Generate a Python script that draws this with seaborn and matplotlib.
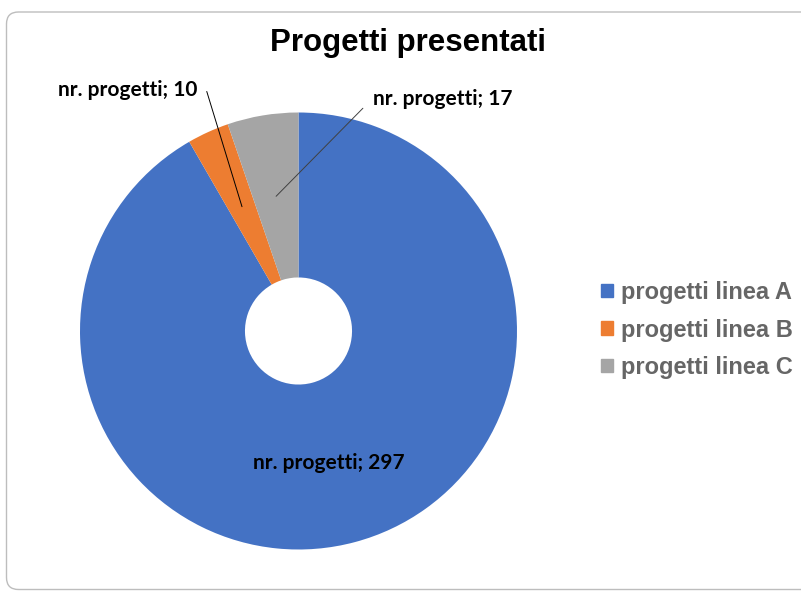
import numpy as np
import matplotlib
matplotlib.use("Agg")
import matplotlib.pyplot as plt
import matplotlib.patches as mpatches
from matplotlib.transforms import IdentityTransform
import seaborn as sns

categories = ["progetti linea A", "progetti linea B", "progetti linea C"]
values = [297, 10, 17]
label_prefix = "nr. progetti"
colors = ["#4472C4", "#ED7D31", "#A5A5A5"]

sns.set_theme(style="white")
plt.rcParams["font.family"] = ["Liberation Sans", "DejaVu Sans"]

W, H = 801, 591
fig = plt.figure(figsize=(W / 100, H / 100), dpi=100)

# rounded chart frame
frame = mpatches.FancyBboxPatch((6.5, 1.5), 830, 577.5,
                                boxstyle="round,pad=0,rounding_size=12",
                                transform=IdentityTransform(), zorder=-5,
                                facecolor="none", edgecolor="#bdbdbd", lw=1.0)
fig.patches.append(frame)

# pie area: centre (298.5, 331) px, radius 218.5 px
cx, cy, r = 298.5, 331, 218.5
ax = fig.add_axes([(cx - r) / W, (H - cy - r) / H, 2 * r / W, 2 * r / H])
wedges, _ = ax.pie(values, colors=colors, startangle=90, counterclock=False,
                   radius=1, wedgeprops=dict(width=0.755, edgecolor="none"))
ax.set_xlim(-1, 1)
ax.set_ylim(-1, 1)
ax.set_aspect("equal")
ax.axis("off")

lab_font = dict(family=["Lato", "DejaVu Sans"], fontweight="bold", fontsize=15, color="black")

# data labels
anchor_r = 0.625
for i, w in enumerate(wedges):
    mid = np.deg2rad((w.theta1 + w.theta2) / 2)
    ax_pt = (anchor_r * np.cos(mid), anchor_r * np.sin(mid))
    txt = f"{label_prefix}; {values[i]}"
    if i == 0:
        ax.text(ax_pt[0] - 5 / r, ax_pt[1], txt, ha="center", va="center", **lab_font)
    elif i == 1:
        ax.annotate(txt, xy=ax_pt, xytext=((197 - cx) / r, (cy - 90) / r),
                    ha="right", va="center", **lab_font, annotation_clip=False,
                    arrowprops=dict(arrowstyle="-", color="black", lw=0.7,
                                    relpos=(1, 0.55), shrinkA=5, shrinkB=0,
                                    connectionstyle="angle,angleA=0,angleB=107,rad=0"))
    else:
        ax.annotate(txt, xy=ax_pt, xytext=((373 - cx) / r, (cy - 99) / r),
                    ha="left", va="center", **lab_font, annotation_clip=False,
                    arrowprops=dict(arrowstyle="-", color="#404040", lw=0.7,
                                    relpos=(0, 0.55), shrinkA=7, shrinkB=0))

fig.text(408 / W, 1 - 43 / H, "Progetti presentati", ha="center", va="center",
         fontsize=22.5, fontweight="bold", color="black")

handles = [mpatches.Patch(color=c, label=l) for c, l in zip(colors, categories)]
leg = fig.legend(handles=handles, loc="center left", bbox_to_anchor=(580 / W, 1 - 330 / H),
                 frameon=False, handlelength=0.5, handleheight=0.5, handletextpad=0.33,
                 labelspacing=0.62, prop=dict(weight="bold", size=17))
for t in leg.get_texts():
    t.set_color("#666666")

fig.savefig("out.png", dpi=100)
